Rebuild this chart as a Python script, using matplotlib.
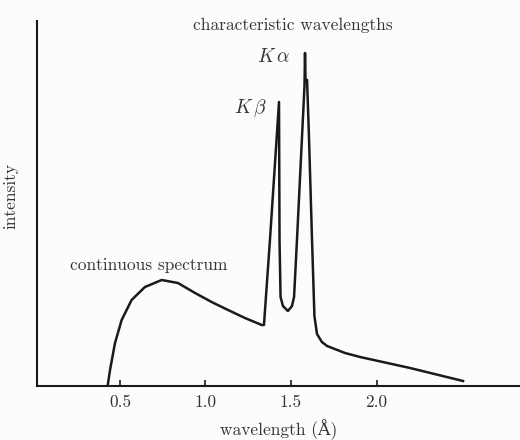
"""X-ray spectrum sketch: continuous spectrum plus K-alpha / K-beta lines."""

import matplotlib
matplotlib.use("Agg")
import matplotlib.pyplot as plt

# wavelength in angstrom, intensity in arbitrary units
wavelength = [0.428, 0.442, 0.471, 0.510, 0.568, 0.646, 0.744, 0.839, 0.939,
              1.036, 1.132, 1.231, 1.329, 1.342, 1.377, 1.430, 1.433, 1.439,
              1.453, 1.482, 1.506, 1.518, 1.535, 1.579, 1.582, 1.585, 1.594,
              1.605, 1.623, 1.637, 1.652, 1.681, 1.711, 1.816, 1.904, 2.196,
              2.506]
intensity = [0.00, 0.16, 0.43, 0.66, 0.86, 0.99, 1.06, 1.03, 0.93,
             0.84, 0.76, 0.68, 0.61, 0.61, 1.46, 2.84, 1.46, 0.89,
             0.80, 0.75, 0.80, 0.89, 1.46, 3.00, 3.33, 3.05, 3.06,
             2.50, 1.46, 0.70, 0.52, 0.44, 0.40, 0.33, 0.29, 0.18,
             0.05]

tick_values = [0.5, 1.0, 1.5, 2.0]
tick_labels = ["0.5", "1.0", "1.5", "2.0"]

ink = "#1a1a1a"
text_color = "#333333"

plt.rcParams["font.family"] = ["cmr10", "DejaVu Serif"]
plt.rcParams["mathtext.fontset"] = "cm"
plt.rcParams["axes.formatter.use_mathtext"] = True

fig = plt.figure(figsize=(5.2, 4.4), dpi=100, facecolor="#fbfcfd")
ax = fig.add_axes([37 / 520, 54 / 440, 483 / 520, 365 / 440])
ax.set_facecolor("#fbfcfd")

ax.plot(wavelength, intensity, color=ink, lw=1.8, solid_joinstyle="round")

ax.set_xlim(0.015, 2.839)
ax.set_ylim(0, 3.65)

for side in ["top", "right"]:
    ax.spines[side].set_visible(False)
for side in ["left", "bottom"]:
    ax.spines[side].set_linewidth(1.5)
    ax.spines[side].set_color(ink)

ax.set_xticks(tick_values)
ax.set_xticklabels(tick_labels, fontsize=12.5, color=text_color)
ax.set_yticks([])
ax.tick_params(axis="x", direction="in", length=4, width=1.2, color=ink, pad=6)

ax.set_xlabel("wavelength (Å)", fontsize=12.5, color=text_color, labelpad=7)
ax.set_ylabel("intensity", fontsize=12.5, color=text_color, va="center")
ax.yaxis.set_label_coords(-0.055, 0.52)

ax.text(0.67, 1.21, "continuous spectrum", fontsize=12.5, color=text_color, ha="center", va="center")
ax.text(1.51, 3.61, "characteristic wavelengths", fontsize=12.5, color=text_color, ha="center", va="center")
ax.text(1.40, 3.29, r"$K\,\alpha$", fontsize=14, color=text_color, ha="center", va="center")
ax.text(1.26, 2.78, r"$K\,\beta$", fontsize=14, color=text_color, ha="center", va="center")

fig.savefig("out.png", dpi=100, facecolor=fig.get_facecolor())
